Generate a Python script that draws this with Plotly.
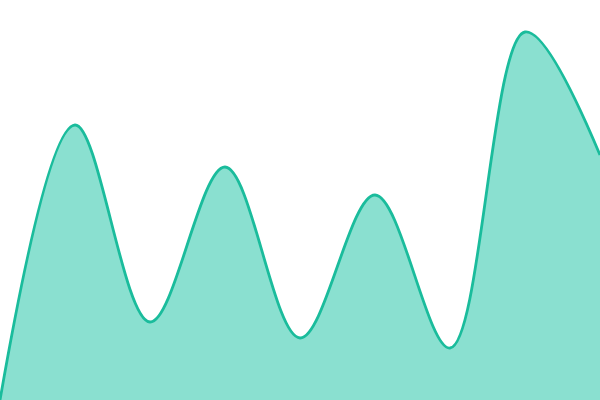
import plotly.graph_objects as go

x_vals = [0, 1, 2, 3, 4, 5, 6, 7, 8]
y_vals = [0, 275, 78, 233, 62, 205, 52, 368, 245]

fig = go.Figure()
fig.add_trace(go.Scatter(
    x=x_vals, y=y_vals, mode="lines",
    line=dict(color="#1abc9c", width=2.8, shape="spline", smoothing=1),
    fill="tozeroy", fillcolor="#8ae0d0",
    hoverinfo="skip",
))
fig.update_layout(
    width=600, height=400,
    margin=dict(l=0, r=0, t=0, b=0),
    paper_bgcolor="white", plot_bgcolor="white",
    showlegend=False,
    xaxis=dict(visible=False, range=[0, 8]),
    yaxis=dict(visible=False, range=[0, 400]),
)
fig.write_html("out.html", config={"displayModeBar": False},
               post_script="document.body.style.margin='0';document.body.style.overflow='hidden';")
